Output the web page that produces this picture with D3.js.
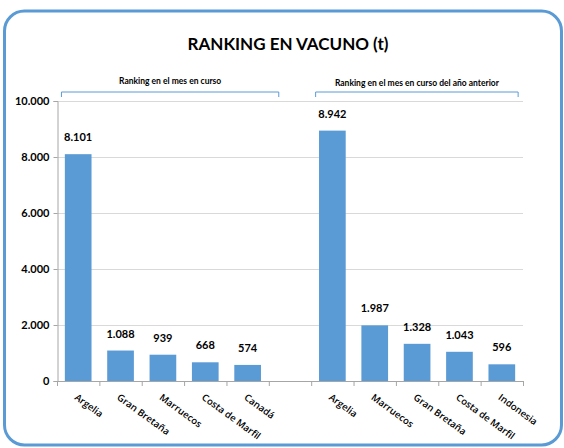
<!DOCTYPE html>
<html>
<head>
<meta charset="utf-8">
<script src="https://cdn.jsdelivr.net/npm/d3@7"></script>
<style>
  body { margin: 0; background: #fff; }
  text { font-family: Lato, 'Open Sans', sans-serif; fill: #000; }
</style>
</head>
<body>
<div class="container"></div>
<script>
// data
const categories = ['Argelia', 'Gran Bretaña', 'Marruecos', 'Costa de Marfil', 'Canadá',
                    'gap',
                    'Argelia ', 'Marruecos ', 'Gran Bretaña ', 'Costa de Marfil ', 'Indonesia']
const values = [8101, 1088, 939, 668, 574, null, 8942, 1987, 1328, 1043, 596]
const yTicks = [0, 2000, 4000, 6000, 8000, 10000]
const groups = [
  {label: 'Ranking en el mes en curso', from: 'Argelia', to: 'Canadá'},
  {label: 'Ranking en el mes en curso del año anterior', from: 'Argelia ', to: 'Indonesia'}
]

const width = 564, height = 448
const svg = d3.select('.container').append('svg')
  .attr('width', width).attr('height', height)

const blue = '#5B9BD5'
const fmt = d3.formatLocale({decimal: ',', thousands: '.', grouping: [3]}).format(',')

// outer rounded frame
svg.append('rect')
  .attr('x', 4.5).attr('y', 11).attr('width', 557).attr('height', 434)
  .attr('rx', 20).attr('ry', 20)
  .attr('fill', 'none').attr('stroke', blue).attr('stroke-width', 3)

svg.append('text')
  .attr('x', 288).attr('y', 50)
  .attr('text-anchor', 'middle')
  .style('font-size', '17px').style('font-weight', 'bold')
  .text('RANKING EN VACUNO (t)')

const plotL = 57, plotR = 523, plotT = 101, plotB = 381

const x = d3.scaleBand().domain(categories).range([plotL, plotR]).paddingInner(0.37).paddingOuter(0.185)
const step = x.step()
const y = d3.scaleLinear().domain([0, 10000]).range([plotB, plotT])

// gridlines
svg.append('g').selectAll('line')
  .data(yTicks.filter(d => d > 0))
  .enter().append('line')
    .attr('x1', plotL).attr('x2', plotR)
    .attr('y1', d => y(d) + 0.5).attr('y2', d => y(d) + 0.5)
    .style('stroke', '#d9d9d9')

// y axis
const yAxis = svg.append('g')
  .attr('transform', `translate(${plotL + 0.5},0)`)
  .call(d3.axisLeft(y).tickValues(yTicks).tickFormat(fmt).tickSize(4).tickPadding(4))
yAxis.select('.domain').attr('stroke', '#a6a6a6')
yAxis.selectAll('.tick line').attr('stroke', '#a6a6a6')
yAxis.selectAll('.tick text')
  .style('font-family', 'Lato, sans-serif').style('font-size', '11px').style('font-weight', 'bold')
  .attr('fill', '#000')

// bars
const data = categories.map((c, i) => ({cat: c, v: values[i]})).filter(d => d.v != null)
svg.append('g').selectAll('rect')
  .data(data)
  .enter().append('rect')
    .attr('x', d => x(d.cat))
    .attr('y', d => y(d.v))
    .attr('width', x.bandwidth())
    .attr('height', d => y(0) - y(d.v))
    .style('fill', blue)

// value labels
svg.append('g').selectAll('text')
  .data(data)
  .enter().append('text')
    .attr('x', d => x(d.cat) + x.bandwidth() / 2)
    .attr('y', d => y(d.v) - 13)
    .attr('text-anchor', 'middle')
    .style('font-size', '11px').style('font-weight', 'bold')
    .text(d => fmt(d.v))

// x axis line and category ticks
svg.append('line')
  .attr('x1', plotL).attr('x2', plotR)
  .attr('y1', plotB + 0.5).attr('y2', plotB + 0.5)
  .style('stroke', '#a6a6a6')
svg.append('g').selectAll('line')
  .data(d3.range(categories.length + 1))
  .enter().append('line')
    .attr('x1', i => plotL + i * step + 0.5).attr('x2', i => plotL + i * step + 0.5)
    .attr('y1', plotB).attr('y2', plotB + 5)
    .style('stroke', '#a6a6a6')

// rotated category labels
svg.append('g').selectAll('text')
  .data(categories.filter(c => c !== 'gap'))
  .enter().append('text')
    .attr('transform', c => `translate(${x(c) + x.bandwidth() / 2},${plotB + 12}) rotate(36)`)
    .attr('dy', '0.75em')
    .style('font-family', "'Open Sans', sans-serif")
    .style('font-size', '9.6px').style('font-weight', 600)
    .text(c => c.trim())

// group brackets
groups.forEach((g, i) => {
  const x0 = x(g.from) - step * 0.08
  const x1 = i === 0 ? x(g.to) + step * 1.05 : x(g.to) + x.bandwidth() + step * 0.07
  svg.append('path')
    .attr('d', `M${x0},97 V92 H${x1} V97`)
    .attr('fill', 'none').attr('stroke', blue).attr('stroke-width', 1)
  svg.append('text')
    .attr('x', (x0 + x1) / 2).attr('y', i === 0 ? 84 : 86)
    .attr('text-anchor', 'middle')
    .style('font-size', '8.5px').style('font-weight', 'bold')
    .text(g.label)
})
</script>
</body>
</html>
